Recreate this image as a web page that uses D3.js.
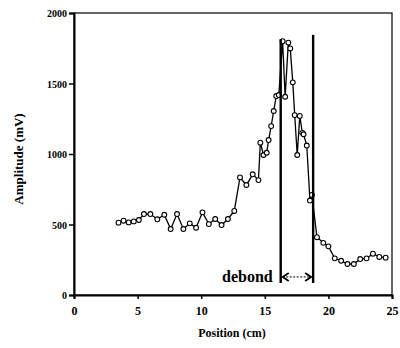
<!DOCTYPE html>
<html><head><meta charset="utf-8">
<script src="https://cdn.jsdelivr.net/npm/d3@7"></script>
<style>body{margin:0;background:#fff}svg{display:block}</style>
</head><body>
<script>
const positions = [3.5,3.9,4.3,4.7,5.1,5.5,6.0,6.55,7.1,7.6,8.1,8.6,9.1,9.6,10.1,10.6,11.1,11.6,12.1,12.6,13.05,13.55,14.05,14.5,14.65,14.9,15.15,15.3,15.5,15.7,15.9,16.1,16.4,16.6,16.85,17.0,17.2,17.35,17.55,17.75,17.95,18.05,18.3,18.55,18.7,19.1,19.6,20.0,20.5,21.0,21.5,22.0,22.5,23.0,23.5,24.0,24.5];
const amplitudes = [513,527,515,522,532,574,574,537,569,468,574,468,508,477,586,503,539,496,539,596,834,780,856,815,1080,993,1009,1099,1198,1305,1411,1418,1800,1406,1790,1749,1508,1276,993,1270,1150,1140,1060,670,710,410,370,345,260,243,220,220,255,260,293,270,265];
const xTicks = [0,5,10,15,20,25];
const yTicks = [0,500,1000,1500,2000];
const debondBounds = [16.25, 18.8];
const debondTops = [1815, 1845];
const debondLabel = "debond";

const W=400,H=348;
const svg=d3.select("body").append("svg").attr("width",W).attr("height",H);
const x=d3.scaleLinear().domain([0,25]).range([74,392]);
const y=d3.scaleLinear().domain([0,2000]).range([295,13]);
const font="'Liberation Serif', 'DejaVu Serif', serif";

// frame
svg.append("rect").attr("x",x(0)).attr("y",y(2000)).attr("width",x(25)-x(0)).attr("height",y(0)-y(2000))
  .attr("fill","none").attr("stroke","#000").attr("stroke-width",1.2);

const gx=svg.append("g").attr("transform",`translate(0,${y(0)})`)
  .call(d3.axisBottom(x).tickValues(xTicks).tickSize(4).tickPadding(7).tickFormat(d3.format("d")));
const gy=svg.append("g").attr("transform",`translate(${x(0)},0)`)
  .call(d3.axisLeft(y).tickValues(yTicks).tickSize(5).tickPadding(2).tickFormat(d3.format("d")));
[gx,gy].forEach(g=>{
  g.select(".domain").attr("stroke","#000").attr("stroke-width",2);
  g.selectAll(".tick line").attr("stroke","#000").attr("stroke-width",1.5);
  g.selectAll(".tick text").attr("fill","#000").style("font-family",font).style("font-weight","bold");
});
gx.selectAll(".tick text").style("font-size","12px");
gy.selectAll(".tick text").style("font-size","10px").attr("dy","0.35em");

// data
const pts=positions.map((p,i)=>[p,amplitudes[i]]);
svg.append("path").datum(pts).attr("fill","none").attr("stroke","#000").attr("stroke-width",1.3)
  .attr("d",d3.line().x(d=>x(d[0])).y(d=>y(d[1])));
svg.append("g").selectAll("circle").data(pts).join("circle")
  .attr("cx",d=>x(d[0])).attr("cy",d=>y(d[1])).attr("r",2.4)
  .attr("fill","#fff").attr("stroke","#000").attr("stroke-width",1.1);

// debond lines
debondBounds.forEach((b,i)=>{
  svg.append("line").attr("x1",x(b)).attr("x2",x(b)).attr("y1",y(debondTops[i])).attr("y2",y(85))
    .attr("stroke","#000").attr("stroke-width",2.4);
});
const ay=y(128);
svg.append("line").attr("x1",x(debondBounds[0])+2).attr("x2",x(debondBounds[1])-2).attr("y1",ay).attr("y2",ay)
  .attr("stroke","#000").attr("stroke-width",1).attr("stroke-dasharray","2,1.5");
svg.append("path").attr("d",`M${x(debondBounds[0])+8},${ay-4}L${x(debondBounds[0])+2},${ay}L${x(debondBounds[0])+8},${ay+4}`)
  .attr("fill","none").attr("stroke","#000").attr("stroke-width",1.8);
svg.append("path").attr("d",`M${x(debondBounds[1])-8},${ay-4}L${x(debondBounds[1])-2},${ay}L${x(debondBounds[1])-8},${ay+4}`)
  .attr("fill","none").attr("stroke","#000").attr("stroke-width",1.8);
svg.append("text").attr("x",x(debondBounds[0])-8).attr("y",y(128)+5).attr("text-anchor","end")
  .style("font-family",font).style("font-weight","bold").style("font-size","16px").text(debondLabel);

// axis titles
svg.append("text").attr("x",232).attr("y",337).attr("text-anchor","middle")
  .style("font-family",font).style("font-weight","bold").style("font-size","12px").text("Position (cm)");
svg.append("text").attr("transform","translate(23,159) rotate(-90)").attr("text-anchor","middle")
  .style("font-family",font).style("font-weight","bold").style("font-size","13px").text("Amplitude (mV)");
</script>
</body></html>
